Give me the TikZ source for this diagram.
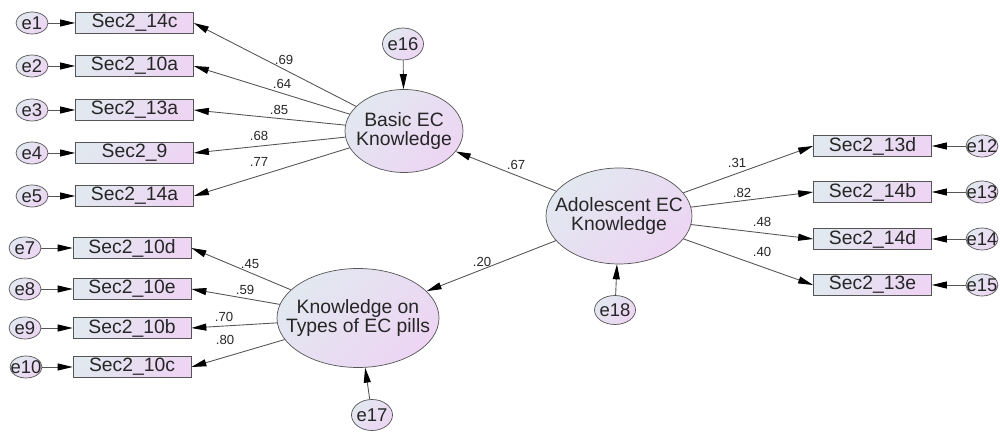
\documentclass[tikz,border=0pt]{standalone}
\usepackage{fontspec}
\setmainfont{Liberation Sans}
\usepackage{tikz}
\usetikzlibrary{arrows.meta,shapes,positioning}
\definecolor{fillL}{RGB}{226,232,240}
\definecolor{fillR}{RGB}{237,213,243}
\definecolor{lineC}{RGB}{85,85,85}
\newcommand{\errtext}[1]{\makebox[0pt]{#1}}

\begin{document}
\begin{tikzpicture}
			[item/.style={rectangle, draw=lineC, top color=fillL, bottom color=fillR, shading angle=45, minimum width=2.36cm, minimum height=0.42cm, inner sep=0pt, text=black!85, font=\fontsize{11}{12}\selectfont},
			 latent/.style={ellipse, draw=lineC, top color=fillL, bottom color=fillR, shading angle=45, inner xsep=-0.3cm, inner ysep=-0.1cm, align=center, text=black!85, font=\fontsize{11}{10.5}\selectfont},
			 err/.style={ellipse, draw=lineC, top color=fillL, bottom color=fillR, shading angle=45, minimum width=0.64cm, minimum height=0.44cm, inner sep=0pt, text=black!85, font=\fontsize{10.5}{12}\selectfont},
			 load/.style={inner sep=0pt, text=black!85, font=\fontsize{7.5}{9}\selectfont},
			 link/.style={-{Triangle[length=3mm,width=1.4mm,color=black]}, draw=lineC, line width=0.5pt},]
			\useasboundingbox (0,0) rectangle (20,8.66);
			% latent variables
			\node[latent, minimum width=2.36cm, minimum height=1.66cm] (basic) at (8.08, 6.04) {Basic EC\\Knowledge};
			\node[latent, minimum width=3.24cm, minimum height=1.98cm] (types) at (7.16, 2.30) {Knowledge on\\Types of EC pills};
			\node[latent, minimum width=2.92cm, minimum height=1.92cm] (adol) at (12.38, 4.34) {Adolescent EC\\Knowledge};
			\node[err, minimum width=0.82cm, minimum height=0.64cm] (e16) at (8.06, 7.78) {\errtext{e16}};
			\node[err, minimum width=0.82cm, minimum height=0.62cm] (e17) at (7.44, 0.36) {\errtext{e17}};
			\node[err, minimum width=0.82cm, minimum height=0.58cm] (e18) at (12.30, 2.46) {\errtext{e18}};
			% indicators of basic knowledge
			\node[item] (b14c) at (2.69, 8.20) {Sec2\_14c};
			\node[item] (b10a) at (2.69, 7.34) {Sec2\_10a};
			\node[item] (b13a) at (2.69, 6.46) {Sec2\_13a};
			\node[item] (b9) at (2.69, 5.60) {Sec2\_9};
			\node[item] (b14a) at (2.69, 4.74) {Sec2\_14a};
			\node[err] (e1) at (0.64, 8.20) {\errtext{e1}};
			\node[err] (e2) at (0.64, 7.34) {\errtext{e2}};
			\node[err] (e3) at (0.64, 6.46) {\errtext{e3}};
			\node[err] (e4) at (0.64, 5.60) {\errtext{e4}};
			\node[err] (e5) at (0.64, 4.74) {\errtext{e5}};
			% indicators of types of pills
			\node[item] (t10d) at (2.64, 3.70) {Sec2\_10d};
			\node[item] (t10e) at (2.64, 2.88) {Sec2\_10e};
			\node[item] (t10b) at (2.64, 2.10) {Sec2\_10b};
			\node[item] (t10c) at (2.64, 1.32) {Sec2\_10c};
			\node[err] (e7) at (0.50, 3.70) {\errtext{e7}};
			\node[err] (e8) at (0.50, 2.88) {\errtext{e8}};
			\node[err] (e9) at (0.50, 2.10) {\errtext{e9}};
			\node[err] (e10) at (0.52, 1.32) {\errtext{e10}};
			% indicators of adolescent knowledge
			\node[item] (a13d) at (17.45, 5.74) {Sec2\_13d};
			\node[item] (a14b) at (17.45, 4.82) {Sec2\_14b};
			\node[item] (a14d) at (17.45, 3.88) {Sec2\_14d};
			\node[item] (a13e) at (17.45, 2.96) {Sec2\_13e};
			\node[err] (e12) at (19.64, 5.74) {\errtext{e12}};
			\node[err] (e13) at (19.64, 4.82) {\errtext{e13}};
			\node[err] (e14) at (19.64, 3.88) {\errtext{e14}};
			\node[err] (e15) at (19.64, 2.96) {\errtext{e15}};
			% paths
			\draw[link] (basic) -- (b14c.east);
			\draw[link] (basic) -- (b10a.east);
			\draw[link] (basic) -- (b13a.east);
			\draw[link] (basic) -- (b9.east);
			\draw[link] (basic) -- (b14a.east);
			\draw[link] (types) -- (t10d.east);
			\draw[link] (types) -- (t10e.east);
			\draw[link] (types) -- (t10b.east);
			\draw[link] (types) -- (t10c.east);
			\draw[link] (adol) -- (a13d.west);
			\draw[link] (adol) -- (a14b.west);
			\draw[link] (adol) -- (a14d.west);
			\draw[link] (adol) -- (a13e.west);
			\draw[link] (adol) -- (basic);
			\draw[link] (adol) -- (types);
			\draw[link] (e16) -- (basic);
			\draw[link] (e17) -- (types);
			\draw[link] (e18) -- (adol);
			\draw[link] (e1) -- (b14c);
			\draw[link] (e2) -- (b10a);
			\draw[link] (e3) -- (b13a);
			\draw[link] (e4) -- (b9);
			\draw[link] (e5) -- (b14a);
			\draw[link] (e7) -- (t10d);
			\draw[link] (e8) -- (t10e);
			\draw[link] (e9) -- (t10b);
			\draw[link] (e10) -- (t10c);
			\draw[link] (e12) -- (a13d);
			\draw[link] (e13) -- (a14b);
			\draw[link] (e14) -- (a14d);
			\draw[link] (e15) -- (a13e);
			% loadings
			\node[load] (l69) at (5.68, 7.46) {.69};
			\node[load] (l64) at (5.64, 6.98) {.64};
			\node[load] (l85) at (5.58, 6.46) {.85};
			\node[load] (l68) at (5.18, 5.94) {.68};
			\node[load] (l77) at (5.18, 5.42) {.77};
			\node[load] (l45) at (5.00, 3.38) {.45};
			\node[load] (l59) at (4.90, 2.86) {.59};
			\node[load] (l70) at (4.48, 2.32) {.70};
			\node[load] (l80) at (4.50, 1.86) {.80};
			\node[load] (l67) at (10.32, 5.36) {.67};
			\node[load] (l20) at (9.64, 3.42) {.20};
			\node[load] (l31) at (14.74, 5.40) {.31};
			\node[load] (l82) at (14.84, 4.80) {.82};
			\node[load] (l48) at (15.24, 4.22) {.48};
			\node[load] (l40) at (15.24, 3.62) {.40};
\end{tikzpicture}
\end{document}
